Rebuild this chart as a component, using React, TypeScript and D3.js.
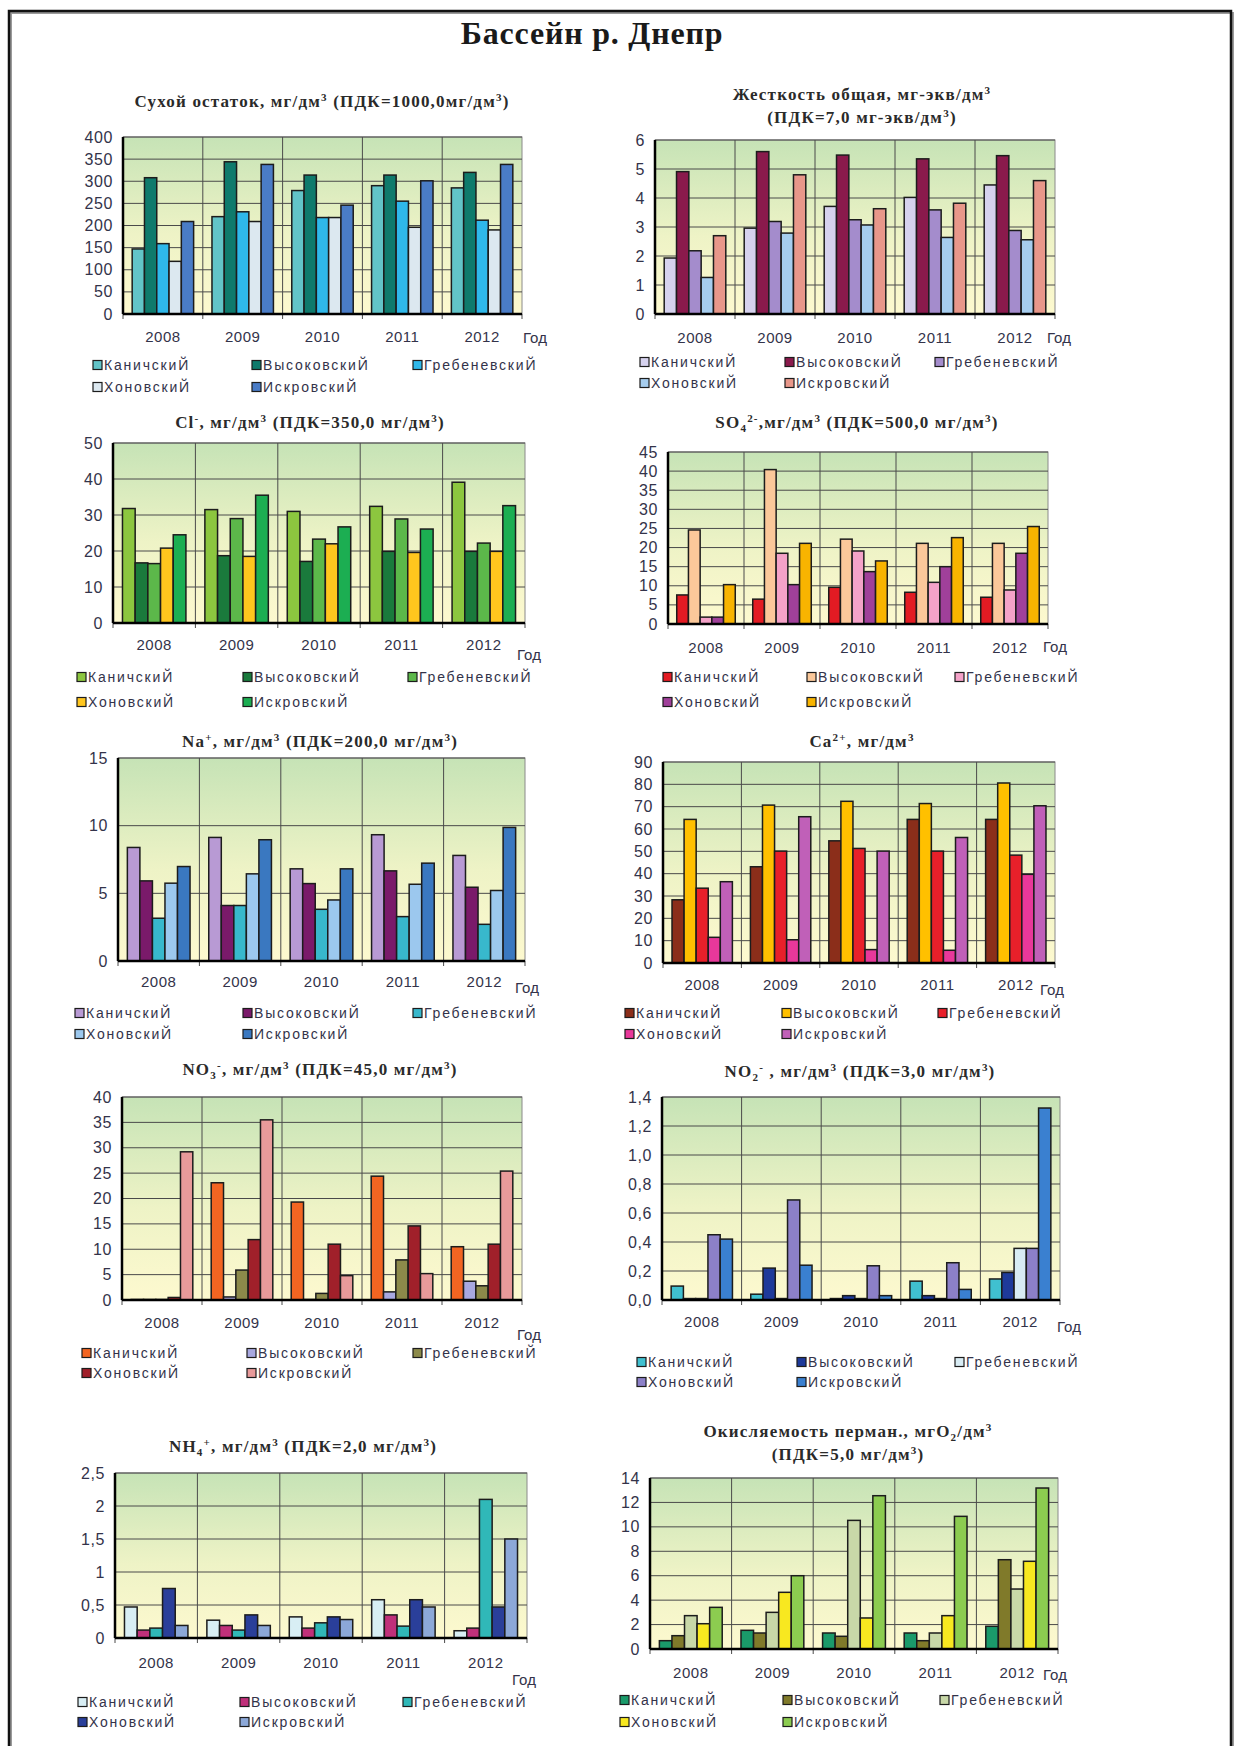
import React, { useEffect, useRef } from 'react';
import * as d3 from 'd3';

const years = ['2008', '2009', '2010', '2011', '2012'];
const stations = ['КаничскиЙ', 'ВысоковскиЙ', 'ГребеневскиЙ', 'ХоновскиЙ', 'ИскровскиЙ'];

// rows = stations, columns = years
const dryResidue = [
  [147, 220, 279, 290, 285],
  [308, 344, 314, 314, 320],
  [159, 231, 218, 255, 212],
  [119, 209, 218, 196, 190],
  [209, 338, 246, 301, 338],
];
const hardness = [
  [1.93, 2.96, 3.71, 4.02, 4.45],
  [4.91, 5.6, 5.48, 5.35, 5.46],
  [2.18, 3.19, 3.25, 3.59, 2.88],
  [1.26, 2.79, 3.07, 2.64, 2.56],
  [2.7, 4.8, 3.63, 3.82, 4.6],
];
const chloride = [
  [31.8, 31.5, 31.0, 32.4, 39.1],
  [16.7, 18.7, 17.1, 19.9, 19.9],
  [16.5, 29.0, 23.3, 28.9, 22.2],
  [20.8, 18.5, 22.0, 19.6, 19.9],
  [24.5, 35.5, 26.7, 26.1, 32.6],
];
const sulfate = [
  [7.6, 6.5, 9.6, 8.3, 7.0],
  [24.6, 40.4, 22.2, 21.1, 21.1],
  [1.8, 18.5, 19.1, 10.9, 8.9],
  [1.8, 10.3, 13.7, 15.0, 18.5],
  [10.3, 21.1, 16.5, 22.6, 25.5],
];
const sodium = [
  [8.39, 9.13, 6.81, 9.33, 7.8],
  [5.92, 4.1, 5.72, 6.66, 5.45],
  [3.16, 4.1, 3.82, 3.28, 2.71],
  [5.75, 6.44, 4.51, 5.67, 5.21],
  [6.98, 8.96, 6.81, 7.23, 9.87],
];
const calcium = [
  [28.3, 43.1, 54.7, 64.3, 64.3],
  [64.3, 70.7, 72.4, 71.4, 80.6],
  [33.5, 50.1, 51.3, 50.1, 48.3],
  [11.5, 10.4, 6.0, 5.7, 39.7],
  [36.4, 65.5, 50.1, 56.2, 70.4],
];
const nitrate = [
  [0.1, 23.1, 19.3, 24.4, 10.5],
  [0.1, 0.6, 0.1, 1.6, 3.7],
  [0.1, 5.9, 1.3, 7.9, 2.8],
  [0.5, 11.9, 11.0, 14.6, 11.0],
  [29.2, 35.5, 4.8, 5.2, 25.4],
];
const nitrite = [
  [0.096, 0.04, 0.01, 0.13, 0.145],
  [0.01, 0.22, 0.03, 0.03, 0.19],
  [0.01, 0.01, 0.01, 0.01, 0.356],
  [0.45, 0.69, 0.236, 0.257, 0.356],
  [0.42, 0.24, 0.03, 0.073, 1.324],
];
const ammonium = [
  [0.47, 0.27, 0.32, 0.58, 0.11],
  [0.12, 0.19, 0.15, 0.35, 0.15],
  [0.15, 0.12, 0.23, 0.18, 2.1],
  [0.75, 0.35, 0.32, 0.58, 0.47],
  [0.19, 0.19, 0.28, 0.47, 1.5],
];
const oxidability = [
  [0.68, 1.53, 1.31, 1.31, 1.86],
  [1.09, 1.31, 1.04, 0.68, 7.31],
  [2.73, 3.0, 10.53, 1.31, 4.91],
  [2.07, 4.64, 2.54, 2.73, 7.18],
  [3.41, 6.0, 12.55, 10.86, 13.18],
];

const charts = [
  {
    key: 'dry', data: dryResidue, max: 400, step: 50, dec: 0,
    colors: ['#62c4c8', '#0f7a6c', '#2fb8ea', '#dce8f0', '#4a7cc6'],
    title: ['Сухой остаток, мг/дм^3^ (ПДК=1000,0мг/дм^3^)'],
    plot: { x: 123, y: 137, w: 399, h: 177 }, titleY: 102, titleX: 322,
    yearsY: 337, god: [523, 338], legY: [365, 387], legX: [93, 252, 413],
  },
  {
    key: 'hard', data: hardness, max: 6, step: 1, dec: 0,
    colors: ['#d6d2ee', '#8a1a4c', '#a48ccc', '#a6cdee', '#e8978a'],
    title: ['Жесткость общая, мг-экв/дм^3^', '(ПДК=7,0 мг-экв/дм^3^)'],
    plot: { x: 655, y: 140, w: 400, h: 174 }, titleY: 95, titleX: 862,
    yearsY: 338, god: [1047, 338], legY: [362, 383], legX: [640, 785, 935],
  },
  {
    key: 'cl', data: chloride, max: 50, step: 10, dec: 0,
    colors: ['#8cc63f', '#1a7a3c', '#5cb84a', '#ffc61e', '#1cae52'],
    title: ['Cl^-^, мг/дм^3^ (ПДК=350,0 мг/дм^3^)'],
    plot: { x: 113, y: 443, w: 412, h: 180 }, titleY: 423, titleX: 310,
    yearsY: 645, god: [517, 655], legY: [677, 702], legX: [77, 243, 408],
  },
  {
    key: 'so4', data: sulfate, max: 45, step: 5, dec: 0,
    colors: ['#e31b23', '#fbc89a', '#f4a2c8', '#a0409a', '#f8b400'],
    title: ['SO_4_^2-^,мг/дм^3^ (ПДК=500,0 мг/дм^3^)'],
    plot: { x: 668, y: 452, w: 380, h: 172 }, titleY: 423, titleX: 857,
    yearsY: 648, god: [1043, 647], legY: [677, 702], legX: [663, 807, 955],
  },
  {
    key: 'na', data: sodium, max: 15, step: 5, dec: 0,
    colors: ['#b89ad4', '#7a1a6a', '#38b8cc', '#9cc8ee', '#3a78c0'],
    title: ['Na^+^, мг/дм^3^ (ПДК=200,0 мг/дм^3^)'],
    plot: { x: 118, y: 758, w: 407, h: 203 }, titleY: 742, titleX: 320,
    yearsY: 982, god: [515, 988], legY: [1013, 1034], legX: [75, 243, 413],
  },
  {
    key: 'ca', data: calcium, max: 90, step: 10, dec: 0,
    colors: ['#8b2e1a', '#ffc000', '#e8202a', '#e8389a', '#c060b8'],
    title: ['Ca^2+^, мг/дм^3^'],
    plot: { x: 663, y: 762, w: 392, h: 201 }, titleY: 742, titleX: 862,
    yearsY: 985, god: [1040, 990], legY: [1013, 1034], legX: [625, 782, 938],
  },
  {
    key: 'no3', data: nitrate, max: 40, step: 5, dec: 0,
    colors: ['#f26522', '#a8a8e0', '#8c8a4a', '#a0202a', '#e89a9a'],
    title: ['NO_3_^-^, мг/дм^3^ (ПДК=45,0 мг/дм^3^)'],
    plot: { x: 122, y: 1097, w: 400, h: 203 }, titleY: 1070, titleX: 320,
    yearsY: 1323, god: [517, 1335], legY: [1353, 1373], legX: [82, 247, 413],
  },
  {
    key: 'no2', data: nitrite, max: 1.4, step: 0.2, dec: 1,
    colors: ['#40c0d0', '#1e3a9a', '#d8ecf4', '#8c80c8', '#3a80d0'],
    title: ['NO_2_^-^ , мг/дм^3^ (ПДК=3,0 мг/дм^3^)'],
    plot: { x: 662, y: 1097, w: 398, h: 203 }, titleY: 1072, titleX: 860,
    yearsY: 1322, god: [1057, 1327], legY: [1362, 1382], legX: [637, 797, 955],
  },
  {
    key: 'nh4', data: ammonium, max: 2.5, step: 0.5, dec: -1,
    colors: ['#d8eef4', '#c0307a', '#30b8b8', '#2a3f9a', '#8ca8d8'],
    title: ['NH_4_^+^, мг/дм^3^ (ПДК=2,0 мг/дм^3^)'],
    plot: { x: 115, y: 1473, w: 412, h: 165 }, titleY: 1447, titleX: 303,
    yearsY: 1663, god: [512, 1680], legY: [1702, 1722], legX: [78, 240, 403],
  },
  {
    key: 'ox', data: oxidability, max: 14, step: 2, dec: 0,
    colors: ['#1a9a6a', '#807a2a', '#c8d8a8', '#f8e820', '#8ccc50'],
    title: ['Окисляемость перман., мгО_2_/дм^3^', '(ПДК=5,0 мг/дм^3^)'],
    plot: { x: 650, y: 1478, w: 408, h: 171 }, titleY: 1432, titleX: 848,
    yearsY: 1673, god: [1043, 1675], legY: [1700, 1722], legX: [620, 783, 940],
  },
];

const SANS = '"Liberation Sans", Arial, sans-serif';
const SERIF = '"Liberation Serif", "Times New Roman", serif';

// text with ^sup^ and _sub_ markup
function richText(sel, str, size) {
  const parts = str.split(/(\^[^^]*\^|_[^_]*_)/).filter((p) => p !== '');
  let shift = 0;
  parts.forEach((p) => {
    let target = 0;
    let txt = p;
    let fs = size;
    if (p.startsWith('^')) { target = -size * 0.38; txt = p.slice(1, -1); fs = size * 0.65; }
    else if (p.startsWith('_')) { target = size * 0.22; txt = p.slice(1, -1); fs = size * 0.65; }
    sel.append('tspan').attr('dy', target - shift).attr('font-size', fs).text(txt);
    shift = target;
  });
}

function fmt(v, dec) {
  if (dec === -1) return String(+v.toFixed(1)).replace('.', ',');
  return v.toFixed(dec).replace('.', ',');
}

const App = () => {
  const ref = useRef();

  useEffect(() => {
    const svg = d3.select(ref.current);
    svg.selectAll('*').remove();

    svg.append('rect').attr('width', 1241).attr('height', 1746).attr('fill', '#fff');
    // page frame
    svg.append('rect').attr('x', 11).attr('y', 13).attr('width', 1222).attr('height', 1760)
      .attr('fill', 'none').attr('stroke', '#9a9a9a').attr('stroke-width', 2);
    svg.append('rect').attr('x', 9).attr('y', 11).attr('width', 1222).attr('height', 1760)
      .attr('fill', 'none').attr('stroke', '#111').attr('stroke-width', 2.5);

    svg.append('text').attr('x', 592).attr('y', 44).attr('text-anchor', 'middle')
      .attr('font-family', SERIF).attr('font-weight', 'bold').attr('font-size', 32)
      .attr('letter-spacing', 0.8).attr('fill', '#1a1a1a').text('Бассейн р. Днепр');

    const defs = svg.append('defs');
    const grad = defs.append('linearGradient').attr('id', 'bg').attr('x1', 0).attr('y1', 0).attr('x2', 0).attr('y2', 1);
    grad.append('stop').attr('offset', '0%').attr('stop-color', '#c6e3b6');
    grad.append('stop').attr('offset', '55%').attr('stop-color', '#eef3c6');
    grad.append('stop').attr('offset', '100%').attr('stop-color', '#fdf9cf');

    charts.forEach((c) => {
      const { x: px, y: py, w, h } = c.plot;
      const g = svg.append('g').attr('transform', `translate(${px},${py})`);

      const x0 = d3.scaleBand().domain(years).range([0, w]);
      const bw = x0.bandwidth();
      const x1 = d3.scaleBand().domain(stations).range([bw * 0.115, bw * 0.885]);
      const y = d3.scaleLinear().domain([0, c.max]).range([h, 0]);
      const ticks = d3.range(0, c.max + c.step / 2, c.step);

      g.append('rect').attr('width', w).attr('height', h).attr('fill', 'url(#bg)')
        .attr('stroke', '#8a8a8a').attr('stroke-width', 1);

      g.selectAll('.hg').data(ticks.slice(1)).enter().append('line')
        .attr('x1', 0).attr('x2', w).attr('y1', (d) => y(d)).attr('y2', (d) => y(d))
        .attr('stroke', '#4a4a4a').attr('stroke-width', 1);
      g.selectAll('.vg').data(years.slice(1)).enter().append('line')
        .attr('x1', (d) => x0(d)).attr('x2', (d) => x0(d)).attr('y1', 0).attr('y2', h + 5)
        .attr('stroke', '#4a4a4a').attr('stroke-width', 1);
      g.append('line').attr('x1', w).attr('x2', w).attr('y1', h).attr('y2', h + 5).attr('stroke', '#4a4a4a');
      g.append('line').attr('x1', 0).attr('x2', 0).attr('y1', h).attr('y2', h + 5).attr('stroke', '#4a4a4a');

      // bars
      c.data.forEach((row, si) => {
        g.selectAll(`.b${si}`).data(row).enter().append('rect')
          .attr('x', (d, i) => x0(years[i]) + x1(stations[si]))
          .attr('y', (d) => y(d))
          .attr('width', x1.bandwidth())
          .attr('height', (d) => h - y(d))
          .attr('fill', c.colors[si])
          .attr('stroke', '#1c1c1c').attr('stroke-width', 1.5);
      });

      // axes lines
      g.append('line').attr('x1', 0).attr('x2', 0).attr('y1', 0).attr('y2', h).attr('stroke', '#000').attr('stroke-width', 2.5);
      g.append('line').attr('x1', 0).attr('x2', w).attr('y1', h).attr('y2', h).attr('stroke', '#000').attr('stroke-width', 2.5);

      g.selectAll('.yt').data(ticks).enter().append('text')
        .attr('x', -10).attr('y', (d) => y(d) + 5.5).attr('text-anchor', 'end')
        .attr('font-family', SANS).attr('font-size', 16).attr('letter-spacing', 0.6).attr('fill', '#33334a')
        .text((d) => fmt(d, c.dec));

      g.selectAll('.xt').data(years).enter().append('text')
        .attr('x', (d) => x0(d) + bw / 2).attr('y', c.yearsY - py + 5).attr('text-anchor', 'middle')
        .attr('font-family', SANS).attr('font-size', 15).attr('letter-spacing', 0.5).attr('fill', '#33334a')
        .text((d) => d);

      svg.append('text').attr('x', c.god[0]).attr('y', c.god[1] + 5)
        .attr('font-family', SANS).attr('font-size', 15).attr('fill', '#33334a').text('Год');

      // title
      c.title.forEach((t, li) => {
        const tt = svg.append('text').attr('x', c.titleX).attr('y', c.titleY + 5 + li * 23)
          .attr('text-anchor', 'middle').attr('font-family', SERIF).attr('font-weight', 'bold')
          .attr('font-size', 17).attr('letter-spacing', 1.2).attr('fill', '#2a2a2a');
        richText(tt, t, 17);
      });

      // legend
      stations.forEach((s, si) => {
        const lx = c.legX[si % 3];
        const ly = c.legY[Math.floor(si / 3)];
        svg.append('rect').attr('x', lx).attr('y', ly - 4.5).attr('width', 9).attr('height', 9)
          .attr('fill', c.colors[si]).attr('stroke', '#1c1c1c').attr('stroke-width', 1.2);
        svg.append('text').attr('x', lx + 11).attr('y', ly + 5)
          .attr('font-family', SANS).attr('font-size', 14).attr('letter-spacing', 1.8).attr('fill', '#33334a')
          .text(s);
      });
    });
  }, []);

  return (
    <svg ref={ref} width={1241} height={1746} style={{ position: 'absolute', left: 0, top: 0 }} />
  );
};

export default App;
